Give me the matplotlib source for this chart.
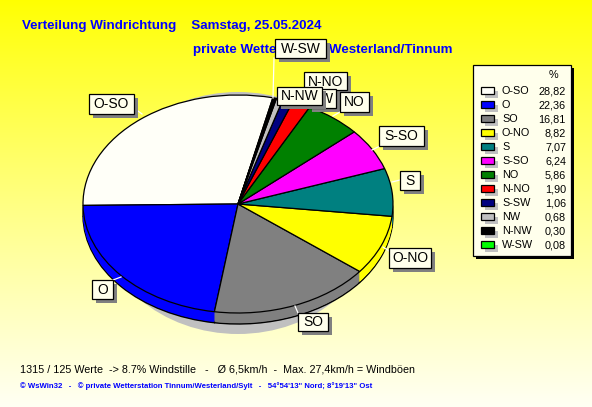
import matplotlib
matplotlib.use('Agg')
import matplotlib.pyplot as plt
import numpy
from matplotlib.patches import Ellipse, Rectangle

plt.rcParams['font.family'] = ['Liberation Sans', 'DejaVu Sans']

# datos del grafico
directions = ['O-SO', 'O', 'SO', 'O-NO', 'S', 'S-SO', 'NO', 'N-NO', 'S-SW', 'NW', 'N-NW', 'W-SW']
shares = [28.82, 22.36, 16.81, 8.82, 7.07, 6.24, 5.86, 1.90, 1.06, 0.68, 0.30, 0.08]
share_labels = ['28,82', '22,36', '16,81', '8,82', '7,07', '6,24', '5,86', '1,90', '1,06', '0,68', '0,30', '0,08']
colors = ['#FFFFF8', '#0000FF', '#808080', '#FFFF00', '#008080', '#FF00FF',
          '#008000', '#FF0000', '#000080', '#C0C0C0', '#000000', '#00FF00']

W, H = 592, 407
CX, CY, RX, RY = 238, 204, 155, 109
DEPTH = 11
CREAM = '#FFFFEC'

fig = plt.figure(figsize=(W / 100, H / 100), dpi=100)

# fondo con degradado
bg = fig.add_axes([0, 0, 1, 1], zorder=0)
grad = numpy.ones((H, 1, 3))
grad[:, 0, 2] = numpy.linspace(0, 0.95, H) ** 0.9
bg.imshow(grad, extent=[0, W, H, 0], aspect='auto')
bg.set_xlim(0, W)
bg.set_ylim(H, 0)
bg.axis('off')
bg.add_patch(Ellipse((CX, 213), 2 * 140, 2 * 121, fc='#C0C0C0', ec='none'))

# tarta: la altura se hace repitiendo la tarta hacia abajo
ax = fig.add_axes([(CX - RX) / W, (H - CY - RY) / H, 2 * RX / W, 2 * RY / H], zorder=1)
for k in range(DEPTH, 0, -1):
    edge = 'black' if k == DEPTH else 'none'
    ax.pie(shares, colors=colors, startangle=77, radius=1, center=(0, -k / RY),
           wedgeprops={'edgecolor': edge, 'linewidth': 1.0})
ax.pie(shares, colors=colors, startangle=77, radius=1,
       wedgeprops={'edgecolor': 'black', 'linewidth': 0.9})
ax.set_xlim(-1, 1)
ax.set_ylim(-1, 1)
ax.set_aspect('auto')
ax.axis('off')

# capa de textos en pixeles
top = fig.add_axes([0, 0, 1, 1], zorder=2)
top.set_xlim(0, W)
top.set_ylim(H, 0)
top.axis('off')

top.text(22, 26, 'Verteilung Windrichtung    Samstag, 25.05.2024', color='#0000FF',
         fontsize=9.65, fontweight='bold', va='center', zorder=1)
top.text(193, 50, 'private Wetterstation Westerland/Tinnum', color='#0000FF',
         fontsize=9.65, fontweight='bold', va='center', zorder=1)
top.text(20, 369, '1315 / 125 Werte  -> 8.7% Windstille   -   Ø 6,5km/h  -  Max. 27,4km/h = Windböen',
         color='black', fontsize=7.75, va='center', zorder=1)
top.text(20, 386, '© WsWin32   -   © private Wetterstation Tinnum/Westerland/Sylt   -   '
         '54°54\'13" Nord; 8°19\'13" Ost', color='#0000FF', fontsize=5.55, fontweight='bold', va='center', zorder=1)

z = 2


def label_box(text, x0, y0, x1, y1, lead=None):
    # cada caja tapa a la anterior, como en el original
    global z
    if lead:
        top.plot(lead[0], lead[1], color='white', lw=0.9, zorder=z)
    top.add_patch(Rectangle((x0 + 4, y0 + 4), x1 - x0, y1 - y0, fc='#808080', ec='none', zorder=z + 0.1))
    top.add_patch(Rectangle((x0, y0), x1 - x0, y1 - y0, fc=CREAM, ec='black', lw=0.9, zorder=z + 0.2))
    top.text((x0 + x1) / 2, (y0 + y1) / 2 + 0.5, text, ha='center', va='center', fontsize=10,
             color='black', zorder=z + 0.3)
    z += 1


label_box('O-SO', 89, 94, 134, 114, ([134, 142], [108, 114]))
label_box('O', 92, 280, 113, 299, ([113, 121], [280, 277]))
label_box('SO', 298, 313, 328, 331, ([295, 298], [306, 313]))
label_box('O-NO', 389, 248, 431, 268, ([383, 389], [247, 251]))
label_box('S', 400, 171, 420, 190, ([392, 400], [182, 180]))
label_box('S-SO', 379, 126, 424, 146, ([372, 380], [150, 146]))
label_box('N-NO', 304, 72, 347, 90)
label_box('NW', 308, 89, 336, 108)
label_box('NO', 340, 92, 369, 112, ([333, 340], [116, 112]))
label_box('W-SW', 275, 39, 326, 58, ([274, 273], [58, 98]))
label_box('N-NW', 277, 87, 322, 105)

# leyenda
top.add_patch(Rectangle((476, 68), 98, 191, fc='black', ec='none', zorder=z))
top.add_patch(Rectangle((473, 65), 98, 191, fc=CREAM, ec='black', lw=0.9, zorder=z))
top.text(553, 75, '%', ha='center', va='center', fontsize=7.8, color='black', zorder=z + 1)
for i, name in enumerate(directions):
    y = 91 + i * 14
    top.add_patch(Rectangle((485, y - 0.5), 13, 7, fc='#C0C0C0', ec='none', zorder=z + 1))
    top.add_patch(Rectangle((481, y - 4), 13, 7, fc=colors[i], ec='black', lw=0.9, zorder=z + 1))
    top.text(502, y, name, va='center', fontsize=7.8, color='black', zorder=z + 1)
    top.text(566, y, share_labels[i], ha='right', va='center', fontsize=7.8, color='black', zorder=z + 1)

fig.savefig('out.png', dpi=100)
